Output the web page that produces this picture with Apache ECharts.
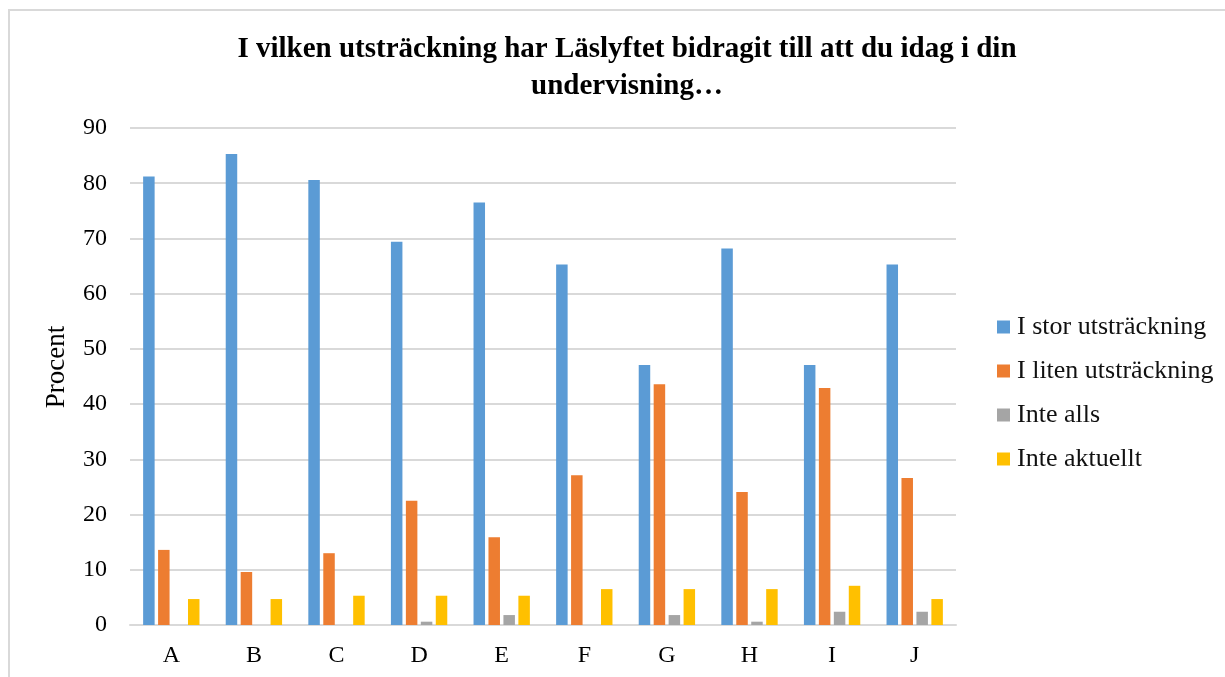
<!DOCTYPE html>
<html>
<head>
<meta charset="utf-8">
<script src="https://cdn.jsdelivr.net/npm/echarts@6/dist/echarts.min.js"></script>
<style>
html,body{margin:0;padding:0;background:#fff;width:1225px;height:677px;overflow:hidden;}
#frame{position:absolute;left:8px;top:9px;width:1300px;height:800px;border-left:2px solid #d9d9d9;border-top:2px solid #d9d9d9;box-sizing:border-box;}
#chart{position:absolute;left:0;top:0;width:1225px;height:677px;}
</style>
</head>
<body>
<div id="frame"></div>
<div id="chart"></div>
<script>
const categories = ['A','B','C','D','E','F','G','H','I','J'];
const seriesNames = ['I stor utsträckning','I liten utsträckning','Inte alls','Inte aktuellt'];
const storValues   = [81.2, 85.3, 80.6, 69.4, 76.5, 65.3, 47.1, 68.2, 47.1, 65.3];
const litenValues  = [13.6, 9.6, 13.0, 22.5, 15.9, 27.1, 43.6, 24.1, 42.9, 26.6];
const inteAllsValues = [0, 0, 0, 0.6, 1.8, 0, 1.8, 0.6, 2.4, 2.4];
const aktuelltValues = [4.7, 4.7, 5.3, 5.3, 5.3, 6.5, 6.5, 6.5, 7.1, 4.7];
const yTicks = [0,10,20,30,40,50,60,70,80,90];
const titleText = 'I vilken utsträckning har Läslyftet bidragit till att du idag i din\nundervisning…';
const colors = ['#5b9bd5','#ed7d31','#a5a5a5','#ffc000'];

const FONT = '"Liberation Serif", "DejaVu Serif", serif';
const chart = echarts.init(document.getElementById('chart'), null, {renderer:'canvas'});
const dataSets = [storValues, litenValues, inteAllsValues, aktuelltValues];
chart.setOption({
  animation:false,
  backgroundColor:'transparent',
  color:colors,
  title:{
    text:titleText,
    left:622, top:26, textAlign:'center',
    textStyle:{fontFamily:FONT, fontWeight:'bold', fontSize:29, lineHeight:37, color:'#000'}
  },
  legend:{
    orient:'vertical', left:992, top:309,
    itemWidth:13, itemHeight:13, itemGap:18,
    icon:'rect',
    data:seriesNames,
    textStyle:{fontFamily:FONT, fontSize:26, color:'#111', padding:[0,0,0,2]}
  },
  grid:{left:130, right:269, top:128, bottom:52, containLabel:false},
  xAxis:{
    type:'category', data:categories,
    axisLine:{lineStyle:{color:'#d9d9d9', width:2}},
    axisTick:{show:false},
    axisLabel:{fontFamily:FONT, fontSize:24, color:'#000', margin:19}
  },
  yAxis:{
    type:'value', min:0, max:90, interval:10,
    name:'Procent', nameLocation:'middle', nameRotate:90, nameGap:60,
    nameTextStyle:{fontFamily:FONT, fontSize:27, color:'#000', padding:[0,0,0,19]},
    axisLine:{show:false}, axisTick:{show:false},
    axisLabel:{fontFamily:FONT, fontSize:24, color:'#000', margin:23,
      formatter:function(v){return yTicks.indexOf(v)>=0?String(v):'';}},
    splitLine:{lineStyle:{color:'#d9d9d9', width:2}}
  },
  series: seriesNames.map((n,i)=>({
    name:n, type:'bar', data:dataSets[i],
    barWidth:11.5, barGap:'30%',
    itemStyle:{color:colors[i]}
  }))
});
</script>
</body>
</html>
